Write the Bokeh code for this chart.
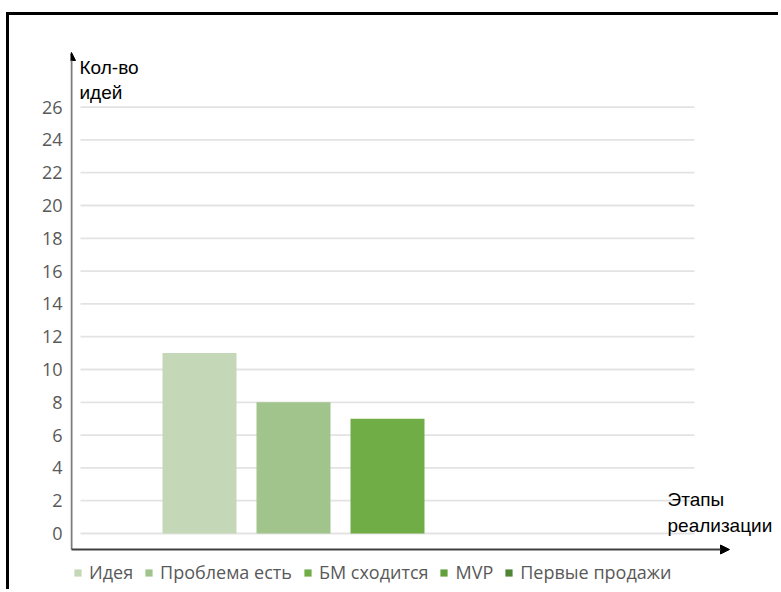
from bokeh.plotting import figure
from bokeh.models import (ColumnDataSource, Range1d, LinearAxis, FixedTicker, Legend,
                          LegendItem, Label, Arrow, NormalHead)
from bokeh.embed import file_html
from bokeh.resources import INLINE

# --- data -------------------------------------------------------------
stages = ["Идея", "Проблема есть", "БМ сходится", "MVP", "Первые продажи"]
ideas_count = [11, 8, 7, 0, 0]
stage_colors = ["#c4d8b7", "#a1c48c", "#70ad47", "#62a03c", "#4f8535"]
y_ticks = [0, 2, 4, 6, 8, 10, 12, 14, 16, 18, 20, 22, 24, 26]
y_title = "Кол-во\nидей"
x_title = "Этапы\nреализации"

PAGE_W, PAGE_H = 781, 592
OX, OY = 9, 15                     # plot offset inside the black picture frame
FRAME_LEFT, FRAME_TOP = 70, 40     # page pixels

# pixel geometry of the plotting area (page pixels)
PX_PER_X = 94.0      # distance between neighbouring bars
X_MID_PX = 387.0     # centre bar position
PX_PER_Y = 16.4      # pixels per idea
Y0_PX = 533.0        # baseline (0 ideas)


def xd(px):
    return (px - X_MID_PX) / PX_PER_X + 2


def yd(py):
    return (Y0_PX - py) / PX_PER_Y


p = figure(width=PAGE_W - OX, height=PAGE_H - OY, output_backend="svg", toolbar_location=None,
           x_range=Range1d(xd(FRAME_LEFT), xd(PAGE_W)),
           y_range=Range1d(yd(PAGE_H), yd(FRAME_TOP)),
           x_axis_type=None, y_axis_type=None,
           min_border_left=FRAME_LEFT - OX, min_border_right=0,
           min_border_top=FRAME_TOP - OY, min_border_bottom=0,
           styles={"margin-left": f"{OX}px", "margin-top": f"{OY}px",
                   "box-shadow": "-3px -3px 0 0 black"})
p.outline_line_color = None
p.grid.visible = False
p.background_fill_color = "white"
p.border_fill_color = "white"

# y axis with tick labels only
yaxis = LinearAxis(ticker=FixedTicker(ticks=y_ticks))
yaxis.axis_line_color = None
yaxis.major_tick_line_color = None
yaxis.minor_tick_line_color = None
yaxis.major_tick_out = 0
yaxis.major_label_standoff = 8
yaxis.major_label_text_font = "Open Sans"
yaxis.major_label_text_font_size = "18px"
yaxis.major_label_text_color = "#595959"
p.add_layout(yaxis, "left")

# horizontal gridlines
g_left, g_right = xd(80), xd(694)
p.segment(x0=[g_left] * len(y_ticks), x1=[g_right] * len(y_ticks),
          y0=y_ticks, y1=y_ticks, line_color="#e3e3e3", line_width=1.8)

# bars, one renderer per stage so each gets a legend entry
items = []
for i, (name, val, col) in enumerate(zip(stages, ideas_count, stage_colors)):
    src = ColumnDataSource(dict(x=[i], top=[val]))
    r = p.vbar(x="x", top="top", bottom=0, width=0.787, source=src,
               fill_color=col, line_color=None)
    items.append(LegendItem(label=name, renderers=[r]))

legend = Legend(items=items, orientation="horizontal", location=(3, 8),
                glyph_width=9, glyph_height=9, label_standoff=7, spacing=11,
                padding=0, margin=0, label_height=18,
                label_text_font="Open Sans", label_text_font_size="18px",
                label_text_color="#595959", border_line_color=None,
                background_fill_alpha=0)
p.add_layout(legend, "center")

# axis arrows
axis_x = xd(71)
axis_y = yd(549)
p.add_layout(Arrow(x_start=axis_x, y_start=axis_y, x_end=axis_x, y_end=yd(52),
                   line_color="#7a7a7a", line_width=2,
                   end=NormalHead(size=8, fill_color="black", line_color="black")))
p.add_layout(Arrow(x_start=axis_x, y_start=axis_y, x_end=xd(729), y_end=axis_y,
                   line_color="#404040", line_width=2,
                   end=NormalHead(size=9, fill_color="black", line_color="black")))

# axis titles
p.add_layout(Label(x=xd(79), y=yd(56), text=y_title, text_baseline="top",
                   text_font="Liberation Sans", text_font_size="19px",
                   text_color="black", text_line_height=1.2))
p.add_layout(Label(x=xd(667), y=yd(488), text=x_title, text_baseline="top",
                   text_font="Liberation Sans", text_font_size="19px",
                   text_color="black", text_line_height=1.25))

open("out.html", "w").write(file_html(p, INLINE))
